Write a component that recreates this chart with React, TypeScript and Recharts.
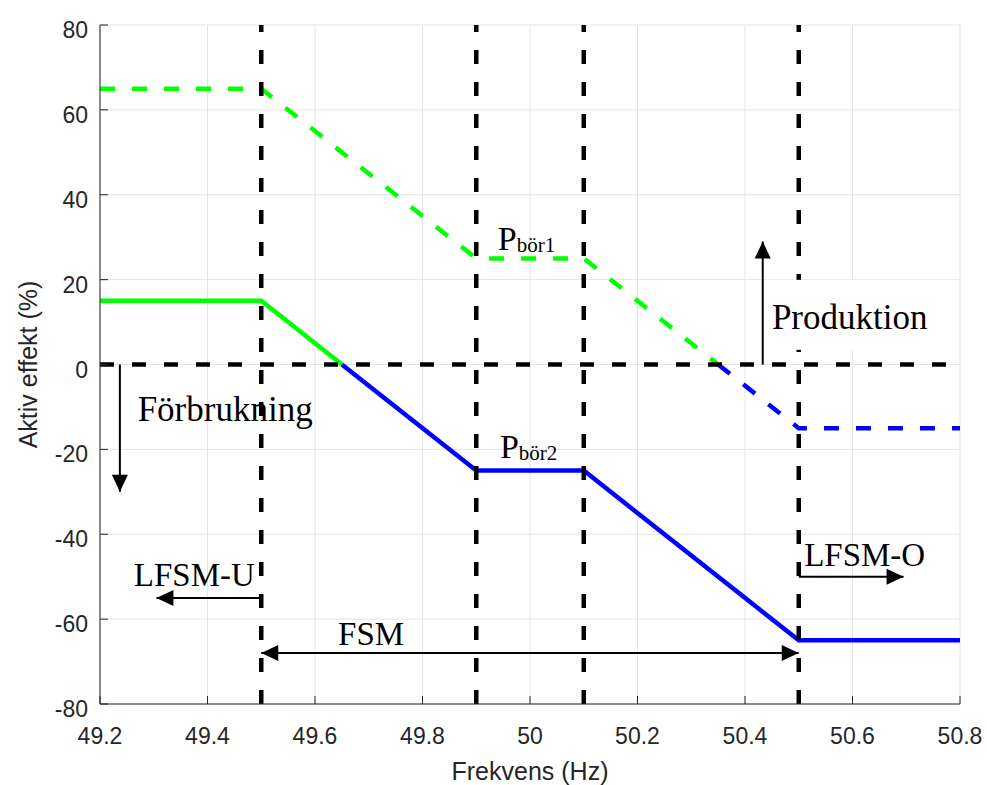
import {
  CartesianGrid,
  Line,
  LineChart,
  ReferenceDot,
  ReferenceLine,
  XAxis,
  YAxis,
} from 'recharts'

const xTicks = [49.2, 49.4, 49.6, 49.8, 50, 50.2, 50.4, 50.6, 50.8]
const yTicks = [-80, -60, -40, -20, 0, 20, 40, 60, 80]

// setpoint curves (frequency Hz, active power %)
const greenDashed = [
  { f: 49.2, p: 65 },
  { f: 49.5, p: 65 },
  { f: 49.9, p: 25 },
  { f: 50.1, p: 25 },
  { f: 50.35, p: 0 },
]
const blueDashed = [
  { f: 50.35, p: 0 },
  { f: 50.5, p: -15 },
  { f: 50.8, p: -15 },
]
const greenSolid = [
  { f: 49.2, p: 15 },
  { f: 49.5, p: 15 },
  { f: 49.65, p: 0 },
]
const blueSolid = [
  { f: 49.65, p: 0 },
  { f: 49.9, p: -25 },
  { f: 50.1, p: -25 },
  { f: 50.5, p: -65 },
  { f: 50.8, p: -65 },
]

const boundaries = [49.5, 49.9, 50.1, 50.5]

const arrows = [
  { from: [50.433, 0], to: [50.433, 29], both: false },
  { from: [49.237, 0], to: [49.237, -30], both: false },
  { from: [49.5, -55], to: [49.305, -55], both: false },
  { from: [50.5, -50], to: [50.695, -50], both: false },
  { from: [49.5, -68], to: [50.5, -68], both: true },
]

const notes = [
  { text: 'Förbrukning', f: 49.27, p: -10.5, size: 35 },
  { text: 'LFSM-U', f: 49.263, p: -49.6, size: 33 },
  { text: 'FSM', f: 49.643, p: -63.4, size: 33 },
  { text: 'LFSM-O', f: 50.51, p: -45, size: 33 },
]

const axisColor = '#262626'
const tickFont = 'Liberation Sans, Arial, sans-serif'
const noteFont = 'Liberation Serif, Times New Roman, serif'

function BottomTick({ x, y, payload }: any) {
  return (
    <g>
      <line x1={x} y1={y} x2={x} y2={y - 8} stroke={axisColor} />
      <text x={x} y={y + 24} dy="0.71em" textAnchor="middle" fontSize={23} fontFamily={tickFont} fill={axisColor}>
        {payload.value}
      </text>
    </g>
  )
}

function LeftTick({ x, y, payload }: any) {
  return (
    <g>
      <line x1={x} y1={y} x2={x + 8} y2={y} stroke={axisColor} />
      <text x={x - 12} y={y + 13} textAnchor="end" fontSize={23} fontFamily={tickFont} fill={axisColor}>
        {payload.value}
      </text>
    </g>
  )
}

function TopTick({ x, y }: any) {
  return <line x1={x} y1={y} x2={x} y2={y + 8} stroke={axisColor} />
}

function RightTick({ x, y }: any) {
  return <line x1={x} y1={y} x2={x - 8} y2={y} stroke={axisColor} />
}

function arrowShape(both: boolean) {
  return (props: any) => {
    const { x1, y1, x2, y2 } = props
    const head = (ax: number, ay: number, bx: number, by: number) => {
      const len = Math.hypot(bx - ax, by - ay)
      const ux = (bx - ax) / len
      const uy = (by - ay) / len
      const L = 17
      const W = 8
      const px = bx - ux * L
      const py = by - uy * L
      return `${bx},${by} ${px - uy * W},${py + ux * W} ${px + uy * W},${py - ux * W}`
    }
    return (
      <g>
        <line x1={x1} y1={y1} x2={x2} y2={y2} stroke="#000" strokeWidth={2} />
        <polygon points={head(x1, y1, x2, y2)} fill="#000" />
        {both && <polygon points={head(x2, y2, x1, y1)} fill="#000" />}
      </g>
    )
  }
}

function noteShape(text: string, size: number) {
  return (props: any) => (
    <text x={props.cx} y={props.cy} dominantBaseline="central" fontSize={size} fontFamily={noteFont} fill="#000">
      {text}
    </text>
  )
}

function PShape(sub: string) {
  return (props: any) => (
    <text x={props.cx} y={props.cy} fontFamily={noteFont} fill="#000">
      <tspan fontSize={34}>P</tspan>
      <tspan fontSize={21} dy={2}>
        {sub}
      </tspan>
    </text>
  )
}

function ProduktionShape(props: any) {
  return (
    <g>
      <rect x={props.cx - 6} y={props.cy - 38} width={190} height={70} fill="#fff" />
      <text x={props.cx} y={props.cy} dominantBaseline="central" fontSize={35} fontFamily={noteFont} fill="#000">
        Produktion
      </text>
    </g>
  )
}

function AxisTitleY(props: any) {
  const vb = props.viewBox
  return (
    <text
      x={28}
      y={vb.y + vb.height / 2}
      transform={`rotate(-90, 28, ${vb.y + vb.height / 2})`}
      textAnchor="middle"
      dominantBaseline="central"
      fontSize={25}
      fontFamily={tickFont}
      fill={axisColor}
    >
      Aktiv effekt (%)
    </text>
  )
}

function AxisTitleX(props: any) {
  const vb = props.viewBox
  return (
    <text x={vb.x + vb.width / 2} y={780} textAnchor="middle" fontSize={25} fontFamily={tickFont} fill={axisColor}>
      Frekvens (Hz)
    </text>
  )
}

export default function App() {
  return (
    <div style={{ position: 'absolute', left: 0, top: 0, background: '#fff' }}>
      <LineChart width={987} height={785} margin={{ top: 25, right: 27, bottom: 0, left: 0 }}>
        <CartesianGrid stroke="#e4e4e4" horizontalValues={yTicks} verticalValues={xTicks} />
        <XAxis
          dataKey="f"
          type="number"
          domain={[49.2, 50.8]}
          ticks={xTicks}
          allowDataOverflow
          height={81}
          tickSize={0}
          tickMargin={0}
          tickLine={false}
          tick={<BottomTick />}
          stroke={axisColor}
          label={<AxisTitleX />}
        />
        <XAxis
          xAxisId="top"
          orientation="top"
          type="number"
          domain={[49.2, 50.8]}
          ticks={xTicks}
          allowDataOverflow
          height={0}
          tickSize={0}
          tickMargin={0}
          tickLine={false}
          tick={<TopTick />}
          stroke={axisColor}
        />
        <YAxis
          dataKey="p"
          type="number"
          domain={[-80, 80]}
          ticks={yTicks}
          allowDataOverflow
          width={100}
          tickSize={0}
          tickMargin={0}
          tickLine={false}
          tick={<LeftTick />}
          stroke={axisColor}
          label={<AxisTitleY />}
        />
        <YAxis
          yAxisId="right"
          orientation="right"
          type="number"
          domain={[-80, 80]}
          ticks={yTicks}
          allowDataOverflow
          width={0}
          tickSize={0}
          tickMargin={0}
          tickLine={false}
          tick={<RightTick />}
          stroke={axisColor}
        />

        <Line data={greenDashed} dataKey="p" stroke="#00ff00" strokeWidth={4.5} strokeDasharray="15 17" dot={false} isAnimationActive={false} />
        <Line data={blueDashed} dataKey="p" stroke="#0000ff" strokeWidth={4.5} strokeDasharray="15 17" dot={false} isAnimationActive={false} />
        <Line data={greenSolid} dataKey="p" stroke="#00ff00" strokeWidth={4.5} dot={false} isAnimationActive={false} />
        <Line data={blueSolid} dataKey="p" stroke="#0000ff" strokeWidth={4.5} dot={false} isAnimationActive={false} />

        <ReferenceLine y={0} stroke="#000" strokeWidth={4.5} strokeDasharray="14 18" />
        {boundaries.map((b) => (
          <ReferenceLine key={b} x={b} stroke="#000" strokeWidth={4.5} strokeDasharray="14 18" />
        ))}

        <ReferenceDot x={50.45} y={11} r={0} shape={ProduktionShape} />
        {notes.map((n) => (
          <ReferenceDot key={n.text} x={n.f} y={n.p} r={0} shape={noteShape(n.text, n.size)} />
        ))}
        <ReferenceDot x={49.94} y={27} r={0} shape={PShape('bör1')} />
        <ReferenceDot x={49.944} y={-22} r={0} shape={PShape('bör2')} />

        {arrows.map((a, i) => (
          <ReferenceLine
            key={i}
            segment={[
              { x: a.from[0], y: a.from[1] },
              { x: a.to[0], y: a.to[1] },
            ]}
            shape={arrowShape(a.both)}
          />
        ))}
      </LineChart>
    </div>
  )
}
